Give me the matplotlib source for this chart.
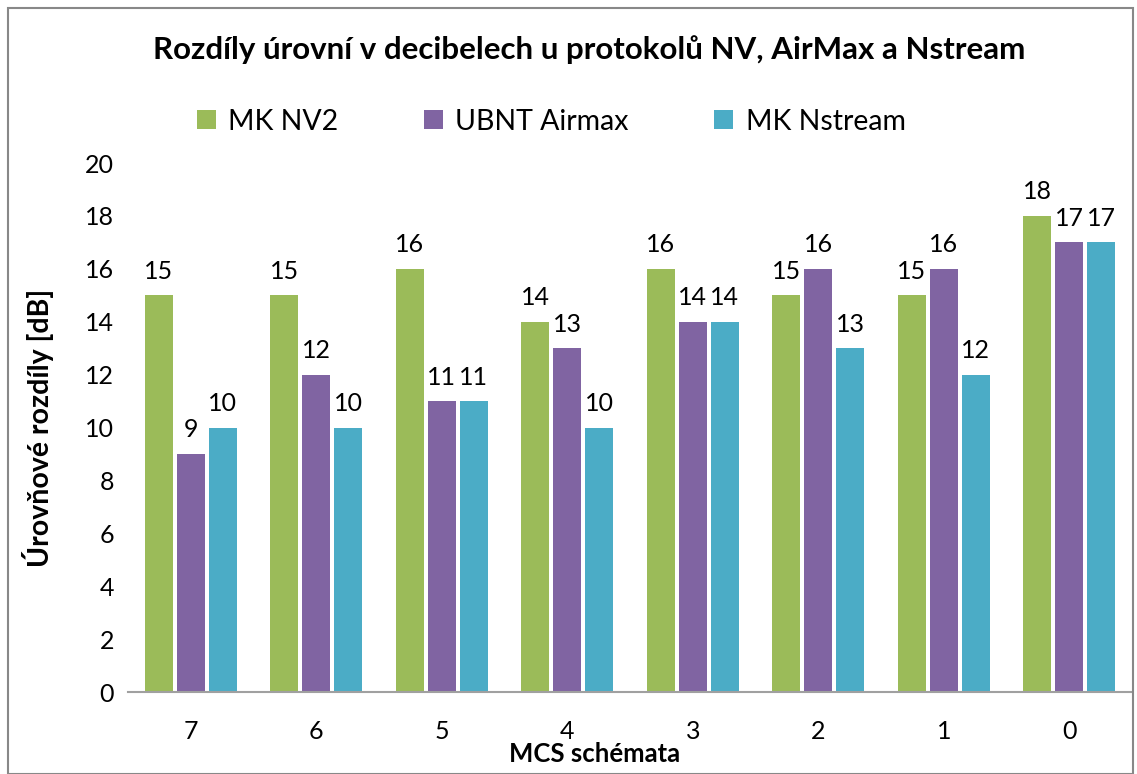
import numpy as np
import matplotlib.pyplot as plt
from matplotlib.patches import Rectangle

plt.rcParams['font.family'] = ['Lato', 'DejaVu Sans']

# data
kategorie = ['7', '6', '5', '4', '3', '2', '1', '0']
mk_nv2 = [15, 15, 16, 14, 16, 15, 15, 18]
ubnt_airmax = [9, 12, 11, 13, 14, 16, 16, 17]
mk_nstream = [10, 10, 11, 10, 14, 13, 12, 17]
serie = ['MK NV2', 'UBNT Airmax', 'MK Nstream']
barvy = ['#9BBB59', '#8064A2', '#4BACC6']

fig = plt.figure(figsize=(11.37, 7.74), dpi=100)
ax = fig.add_axes([0.1126, 0.1059, 0.8830, 0.6835])

x = np.arange(len(kategorie))
sirka = 0.225
posun = 0.255
for i, (hodnoty, nazev, barva) in enumerate(zip([mk_nv2, ubnt_airmax, mk_nstream], serie, barvy)):
    bars = ax.bar(x + (i - 1) * posun, hodnoty, sirka, color=barva, label=nazev)
    ax.bar_label(bars, padding=9, fontsize=18)

ax.set_xlim(-0.5, len(kategorie) - 0.5)
ax.set_ylim(0, 20)
ax.set_yticks(np.arange(0, 21, 2))
ax.set_xticks(x)
ax.set_xticklabels(kategorie)
ax.tick_params(axis='both', length=0, labelsize=18, colors='black')
ax.tick_params(axis='x', pad=20)
ax.tick_params(axis='y', pad=10)
for s in ['left', 'top', 'right']:
    ax.spines[s].set_visible(False)
ax.spines['bottom'].set_color('#A0A0A0')
ax.spines['bottom'].set_linewidth(1.5)

ax.set_ylabel('Úrovňové rozdíly [dB]', fontsize=20.5, fontweight='bold')
ax.yaxis.set_label_coords(-0.074, 0.5)
ax.set_xlabel('MCS schémata', fontsize=18.5, fontweight='bold')
ax.xaxis.set_label_coords(0.465, -0.095)

fig.suptitle('Rozdíly úrovní v decibelech u protokolů NV, AirMax a Nstream',
             fontsize=22.5, fontweight='bold', x=0.518, y=0.955)

fig.legend(loc='center', bbox_to_anchor=(0.485, 0.843), ncol=3, frameon=False,
           fontsize=20.5, handlelength=0.65, handleheight=0.65, columnspacing=3.0,
           handletextpad=0.45)

# ramecek grafu
fig.patches.append(Rectangle((8 / 1137, 0), 1125 / 1137, 1 - 8 / 774, transform=fig.transFigure,
                             fill=False, edgecolor='#888888', linewidth=1.5))

fig.savefig('out.png', dpi=100)
